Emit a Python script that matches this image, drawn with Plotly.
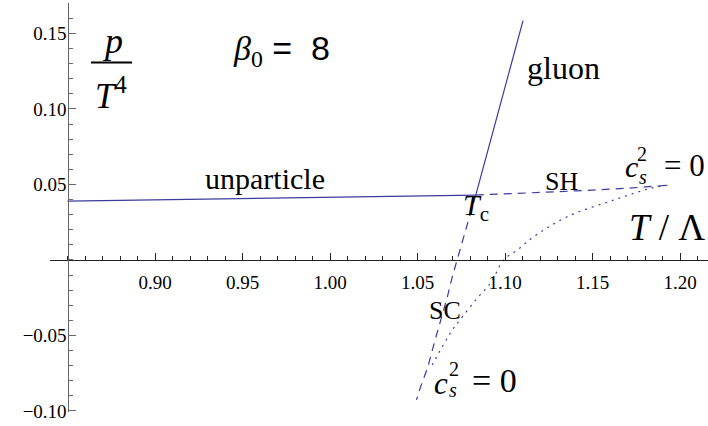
import plotly.graph_objects as go

# ---------------------------------------------------------------------------
# Styling
# ---------------------------------------------------------------------------
LINE_BLUE = "#3b3b9c"
SERIF = "Liberation Serif, Times New Roman, serif"
SANS = "Liberation Sans, Arial, sans-serif"

W, H = 708, 426
M_L, M_R, M_T, M_B = 50, 0, 3, 14

X_RANGE = [0.84, 1.216]
Y_RANGE = [-0.1007, 0.1702]

# ---------------------------------------------------------------------------
# Data
# ---------------------------------------------------------------------------
unparticle_T = [0.85, 1.00, 1.0833]
unparticle_p = [0.0390, 0.0416, 0.0430]

gluon_T = [1.0833, 1.1103]
gluon_p = [0.0430, 0.1585]

# supercooled branch (dashed, below Tc)
sc_T = [1.0833, 1.0741, 1.0699, 1.0671, 1.0642, 1.0614, 1.0585, 1.0557, 1.0518, 1.0494]
sc_p = [0.0430, 0.0055, -0.0110, -0.0243, -0.0353, -0.0475, -0.0596, -0.0717, -0.0839, -0.0927]

# superheated branch (dashed, above Tc)
sh_T = [1.0833, 1.11, 1.14, 1.17, 1.1928]
sh_p = [0.0430, 0.0442, 0.0457, 0.0475, 0.0495]

# c_s^2 = 0 connecting curve (dotted)
cs_T = [1.1928, 1.1833, 1.1621, 1.1357, 1.1164, 1.1071, 1.0993, 1.0918,
        1.0842, 1.0757, 1.0699, 1.0642, 1.0575]
cs_p = [0.0495, 0.0475, 0.0397, 0.0287, 0.0154, 0.0066, 0.0, -0.0152,
        -0.0252, -0.0376, -0.0464, -0.0574, -0.0715]

x_tickvals = [0.90, 0.95, 1.00, 1.05, 1.10, 1.15, 1.20]
x_ticktext = ["0.90", "0.95", "1.00", "1.05", "1.10", "1.15", "1.20"]
y_tickvals = [-0.10, -0.05, 0.05, 0.10, 0.15]
y_ticktext = ["\u22120.10", "\u22120.05", "0.05", "0.10", "0.15"]


def pos(px, py):
    """Pixel position in the 708x426 picture -> paper coordinates."""
    pw = W - M_L - M_R
    ph = H - M_T - M_B
    return (px - M_L) / pw, (H - M_B - py) / ph


def axis_position(value, rng):
    return (value - rng[0]) / (rng[1] - rng[0])


fig = go.Figure()

fig.add_trace(go.Scatter(x=unparticle_T, y=unparticle_p, mode="lines",
                         line=dict(color=LINE_BLUE, width=1.2)))
fig.add_trace(go.Scatter(x=gluon_T, y=gluon_p, mode="lines",
                         line=dict(color=LINE_BLUE, width=1.2)))
fig.add_trace(go.Scatter(x=sc_T, y=sc_p, mode="lines",
                         line=dict(color=LINE_BLUE, width=1.2, dash="8px,6px")))
fig.add_trace(go.Scatter(x=sh_T, y=sh_p, mode="lines",
                         line=dict(color=LINE_BLUE, width=1.2, dash="8px,6px")))
fig.add_trace(go.Scatter(x=cs_T, y=cs_p, mode="lines", line_shape="spline",
                         line=dict(color=LINE_BLUE, width=1.2, dash="2px,5px")))


def label(text, px, py, size, family=SERIF, **kw):
    x, y = pos(px, py)
    fig.add_annotation(x=x, y=y, xref="paper", yref="paper", text=text,
                       showarrow=False, font=dict(family=family, size=size, color="black"),
                       xanchor="center", yanchor="middle", **kw)


# p / T^4 fraction
label("<i>p</i>", 112, 41, 36)
label("<i>T</i><sup>4</sup>", 111, 93, 35)
x0, y0 = pos(91, 62.5)
x1, _ = pos(132, 62.5)
fig.add_shape(type="line", xref="paper", yref="paper", x0=x0, x1=x1, y0=y0, y1=y0,
              line=dict(color="black", width=2))

label("<i>\u03b2</i><sub>0</sub><span style=\"font-family:Liberation Sans\"> =  8</span>",
      281, 50, 34)
label("unparticle", 265, 178, 30)
label("gluon", 563, 68, 32)
label("SH", 561, 182, 26)
label("SC", 445, 310, 26)
label("<i>T</i><sub>c</sub>", 476, 207, 30)
label("<i>T</i> / \u039b", 667, 228, 37)

# upper c_s^2 = 0
label("<i>c</i>", 631, 167, 30)
label("2", 642, 154, 20)
label("<i>s</i>", 643, 177, 20)
label("= 0", 684, 165, 31)

# lower c_s^2 = 0
label("<i>c</i>", 441, 383, 31)
label("2", 454, 369, 20)
label("<i>s</i>", 453, 390, 20)
label("= 0", 494, 380, 34)

fig.update_layout(
    width=W, height=H,
    margin=dict(l=M_L, r=M_R, t=M_T, b=M_B),
    plot_bgcolor="white", paper_bgcolor="white",
    showlegend=False,
    xaxis=dict(
        range=X_RANGE, showgrid=False, zeroline=False,
        anchor="free", position=axis_position(0, Y_RANGE),
        showline=True, linecolor="#222222", linewidth=1.2,
        ticks="inside", ticklen=7, tickcolor="#222222", tickwidth=1,
        tickvals=x_tickvals, ticktext=x_ticktext, ticklabelstandoff=5,
        tickfont=dict(family=SERIF, size=19, color="black"),
        minor=dict(ticks="inside", ticklen=4, tickcolor="#222222", dtick=0.01,
                   tick0=0.84, showgrid=False),
    ),
    yaxis=dict(
        range=Y_RANGE, showgrid=False, zeroline=False,
        anchor="free", position=axis_position(0.85, X_RANGE),
        showline=True, linecolor="#666666", linewidth=1.2,
        ticks="inside", ticklen=7, tickcolor="#666666", tickwidth=1,
        tickvals=y_tickvals, ticktext=y_ticktext, ticklabelstandoff=-3,
        tickfont=dict(family=SERIF, size=19, color="black"),
        minor=dict(ticks="inside", ticklen=4, tickcolor="#666666", dtick=0.01,
                   tick0=0.0, showgrid=False),
    ),
)

fig.write_html("out.html", config={"displayModeBar": False},
               post_script="document.body.style.margin='0';document.body.style.padding='0';")
